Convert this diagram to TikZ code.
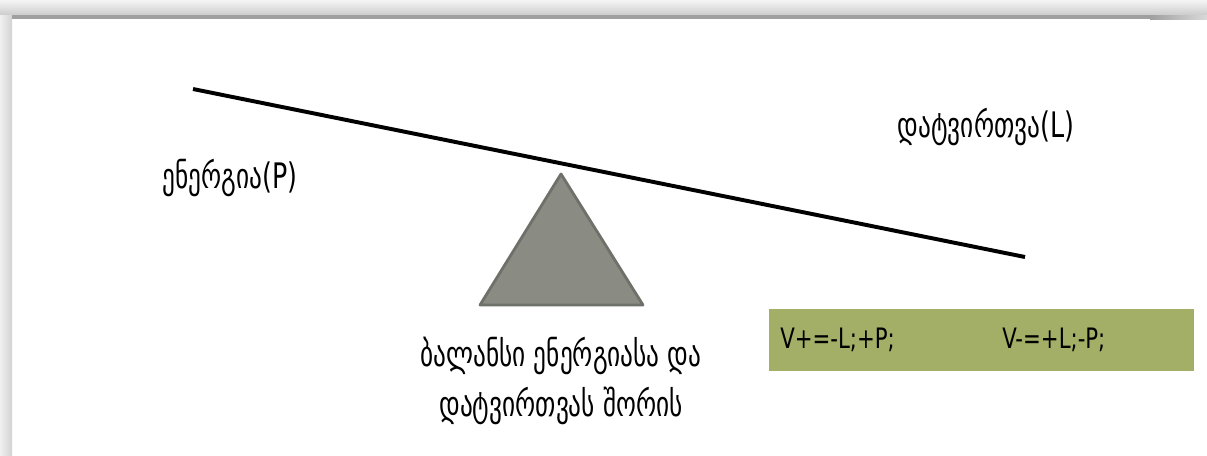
\documentclass[tikz,border=0pt]{standalone}
\usepackage{fontspec}
\newfontfamily\geofont{DejaVu Sans Condensed}[FakeStretch=0.8]
\newfontfamily\rulefont{DejaVu Sans Condensed}[FakeStretch=0.84]
\usetikzlibrary{positioning}
\definecolor{pivotgrey}{HTML}{8A8B83}
\definecolor{pivotedge}{HTML}{6E716A}
\definecolor{ruleboxgreen}{HTML}{A3AE66}

\begin{document}
\begin{tikzpicture}[x=0.025cm,y=-0.025cm,
  lbl/.style={font=\geofont\fontsize{25}{36}\selectfont, inner sep=0pt},
  rulelbl/.style={font=\rulefont\fontsize{20}{24}\selectfont, inner sep=0pt}]
\useasboundingbox (0,0) rectangle (1207,455);

% --- CORNICE ---
\fill[white] (0,0) rectangle (1207,455);
\shade[top color=gray!8, bottom color=gray!40] (0,0) rectangle (1207,15);
\shade[left color=gray!12, right color=gray!35] (0,15) rectangle (12,455);
\shade[left color=gray!75, right color=gray!30] (1150,15) rectangle (1207,19);
\fill[gray!75] (12,15) rectangle (1150,19);

% --- LEVA ---
\coordinate (beamL) at (193,89);
\coordinate (beamR) at (1025,257);
\draw[line width=2.8pt] (beamL) -- (beamR);

% --- FULCRO ---
\coordinate (apex) at (561,174);
\draw[fill=pivotgrey, draw=pivotedge, line width=2pt, line join=round]
(apex) -- (643,305) -- (480,305) -- cycle;

% --- ETICHETTE ---
\node[lbl] (energy) at (230,178) {ენერგია(P)};
\node[lbl] (load) at (986,127) {დატვირთვა(L)};
\node[lbl, align=center] (balance) at (561,381)
{ბალანსი ენერგიასა და\\დატვირთვას შორის};

% --- BOX REGOLE ---
\fill[ruleboxgreen] (769,309) rectangle (1194,371);
\node[rulelbl, anchor=west] (vplus) at (780,340) {V+=-L;+P;};
\node[rulelbl, anchor=west] (vminus) at (1002,340) {V-=+L;-P;};

\end{tikzpicture}
\end{document}
